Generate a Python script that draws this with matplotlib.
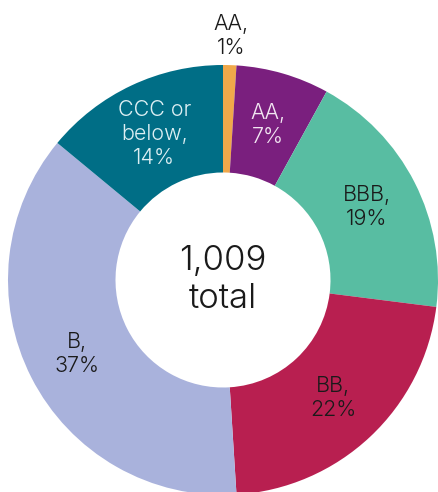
import numpy as np
import matplotlib
matplotlib.use("Agg")
import matplotlib.pyplot as plt

categories = ["AA,\n1%", "AA,\n7%", "BBB,\n19%", "BB,\n22%", "B,\n37%", "CCC or\nbelow,\n14%"]
values = [1, 7, 19, 22, 37, 14]
colors = ["#F0A84A", "#7A1F7E", "#58BDA2", "#B81F50", "#A9B2DC", "#006E86"]
text_colors = ["#1a1a1a", "#F2E6F2", "#1a1a1a", "#1a1a1a", "#1a1a1a", "#DDEFF3"]
label_radius = [1.135, 0.75, 0.75, 0.75, 0.76, 0.75]
center_text = "1,009\ntotal"

plt.rcParams['font.family'] = ['Inter', 'DejaVu Sans']

fig = plt.figure(figsize=(4.38, 4.92), dpi=100)
ax = fig.add_axes([0, 0, 1, 1])
R = 215.0
cx, cy = 223.0, 280.0

wedges, _ = ax.pie(values, colors=colors, startangle=90, counterclock=False,
                   radius=1.0, wedgeprops=dict(width=0.5, edgecolor='none'))

ax.set_xlim(-cx / R, (438 - cx) / R)
ax.set_ylim(-(492 - cy) / R, cy / R)
ax.set_aspect('equal')
ax.axis('off')

for w, lab, tc, r in zip(wedges, categories, text_colors, label_radius):
    ang = np.deg2rad((w.theta1 + w.theta2) / 2)
    ax.text(r * np.cos(ang), r * np.sin(ang), lab, ha='center', va='center',
            fontsize=15.5, color=tc, fontweight=300, linespacing=1.25)

ax.text(0, 0, center_text, ha='center', va='center', fontsize=25,
        color='#1a1a1a', fontweight=300, linespacing=1.2)

fig.savefig("out.png", dpi=100)
